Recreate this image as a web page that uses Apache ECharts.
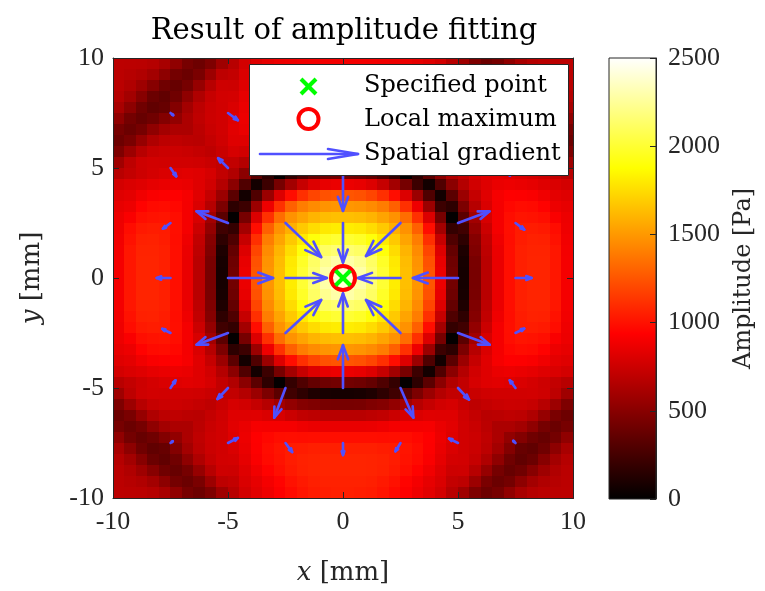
<!DOCTYPE html>
<html>
<head>
<meta charset="utf-8">
<script src="https://cdn.jsdelivr.net/npm/echarts@6/dist/echarts.min.js"></script>
<style>
  html, body { margin: 0; padding: 0; background: #fff; }
  #main { width: 765px; height: 591px; }
</style>
</head>
<body>
<div id="main"></div>
<script>
// cell centres of the amplitude map [mm]
var xCells = [-9.75, -9.25, -8.75, -8.25, -7.75, -7.25, -6.75, -6.25, -5.75, -5.25, -4.75, -4.25, -3.75, -3.25, -2.75, -2.25, -1.75, -1.25, -0.75, -0.25,
              0.25, 0.75, 1.25, 1.75, 2.25, 2.75, 3.25, 3.75, 4.25, 4.75, 5.25, 5.75, 6.25, 6.75, 7.25, 7.75, 8.25, 8.75, 9.25, 9.75];
var yCells = [9.75, 9.25, 8.75, 8.25, 7.75, 7.25, 6.75, 6.25, 5.75, 5.25, 4.75, 4.25, 3.75, 3.25, 2.75, 2.25, 1.75, 1.25, 0.75, 0.25,
              -0.25, -0.75, -1.25, -1.75, -2.25, -2.75, -3.25, -3.75, -4.25, -4.75, -5.25, -5.75, -6.25, -6.75, -7.25, -7.75, -8.25, -8.75, -9.25, -9.75];

// amplitude [Pa], one row per yCells entry (top to bottom), one column per xCells entry
var amplitude = [
[690,689,682,666,617,529,438,402,465,586,678,776,820,850,870,880,890,898,900,900, 900,900,898,890,880,870,850,820,776,678,586,465,402,438,529,617,666,682,689,690],
[689,668,647,599,518,428,393,450,575,696,718,800,840,870,920,980,1000,1018,1020,1020, 1020,1020,1018,1000,980,920,870,840,800,718,696,575,450,393,428,518,599,647,668,689],
[682,647,581,496,410,380,435,552,674,757,752,820,885,945,990,1030,1055,1068,1070,1070, 1070,1070,1068,1055,1030,990,945,885,820,752,757,674,552,435,380,410,496,581,647,682],
[666,599,496,392,358,410,526,643,728,771,778,845,920,975,1005,1040,1060,1068,1070,1070, 1070,1070,1068,1060,1040,1005,975,920,845,778,771,728,643,526,410,358,392,496,599,666],
[617,518,410,358,379,481,599,690,747,768,800,860,930,980,1010,1035,1040,1050,1050,1050, 1050,1050,1050,1040,1035,1010,980,930,860,800,768,747,690,599,481,379,358,410,518,617],
[529,428,380,410,481,537,632,702,749,770,820,870,935,965,985,990,985,990,990,990, 990,990,990,985,990,985,965,935,870,820,770,749,702,632,537,481,410,380,428,529],
[438,393,435,526,599,632,633,689,740,770,830,860,905,900,900,900,880,865,860,860, 860,860,865,880,900,900,900,905,860,830,770,740,689,633,632,599,526,435,393,438],
[402,450,552,643,690,702,689,680,720,760,820,820,825,800,790,745,710,695,680,680, 680,680,695,710,745,790,800,825,820,820,760,720,680,689,702,690,643,552,450,402],
[465,575,674,728,747,749,740,720,700,740,785,770,725,670,595,540,490,470,445,440, 440,445,470,490,540,595,670,725,770,785,740,700,720,740,749,747,728,674,575,465],
[586,696,757,771,768,770,770,760,740,715,715,660,570,455,335,235,170,110,90,80, 80,90,110,170,235,335,455,570,660,715,715,740,760,770,770,768,771,757,696,586],
[678,718,752,778,800,820,830,820,785,715,650,510,335,165,15,190,290,368,406,420, 420,406,368,290,190,15,165,335,510,650,715,785,820,830,820,800,778,752,718,678],
[776,800,820,845,860,870,860,820,770,660,510,295,70,220,435,600,727,811,854,869, 869,854,811,727,600,435,220,70,295,510,660,770,820,860,870,860,845,820,800,776],
[820,840,885,920,930,935,905,825,725,570,335,70,290,570,810,985,1112,1190,1234,1249, 1249,1234,1190,1112,985,810,570,290,70,335,570,725,825,905,935,930,920,885,840,820],
[850,870,945,975,980,965,900,800,670,455,165,220,570,875,1115,1290,1396,1449,1479,1489, 1489,1479,1449,1396,1290,1115,875,570,220,165,455,670,800,900,965,980,975,945,870,850],
[870,920,990,1005,1010,985,900,790,595,335,15,435,810,1115,1340,1474,1540,1598,1629,1639, 1639,1629,1598,1540,1474,1340,1115,810,435,15,335,595,790,900,985,1010,1005,990,920,870],
[880,980,1030,1040,1035,990,900,745,540,235,190,600,985,1290,1474,1580,1675,1747,1793,1809, 1809,1793,1747,1675,1580,1474,1290,985,600,190,235,540,745,900,990,1035,1040,1030,980,880],
[890,1000,1055,1060,1040,985,880,710,490,170,290,727,1112,1396,1540,1675,1797,1900,1971,1999, 1999,1971,1900,1797,1675,1540,1396,1112,727,290,170,490,710,880,985,1040,1060,1055,1000,890],
[898,1018,1068,1068,1050,990,865,695,470,110,368,811,1190,1449,1598,1747,1900,2038,2117,2148, 2148,2117,2038,1900,1747,1598,1449,1190,811,368,110,470,695,865,990,1050,1068,1068,1018,898],
[900,1020,1070,1070,1050,990,860,680,445,90,406,854,1234,1479,1629,1793,1971,2117,2226,2285, 2285,2226,2117,1971,1793,1629,1479,1234,854,406,90,445,680,860,990,1050,1070,1070,1020,900],
[900,1020,1070,1070,1050,990,860,680,440,80,420,869,1249,1489,1639,1809,1999,2148,2285,2405, 2405,2285,2148,1999,1809,1639,1489,1249,869,420,80,440,680,860,990,1050,1070,1070,1020,900],
[900,1020,1070,1070,1050,990,860,680,440,80,420,869,1249,1489,1639,1809,1999,2148,2285,2405, 2405,2285,2148,1999,1809,1639,1489,1249,869,420,80,440,680,860,990,1050,1070,1070,1020,900],
[900,1020,1070,1070,1050,990,860,680,445,90,406,854,1234,1479,1629,1793,1971,2117,2226,2285, 2285,2226,2117,1971,1793,1629,1479,1234,854,406,90,445,680,860,990,1050,1070,1070,1020,900],
[898,1018,1068,1068,1050,990,865,695,470,110,368,811,1190,1449,1598,1747,1900,2038,2117,2148, 2148,2117,2038,1900,1747,1598,1449,1190,811,368,110,470,695,865,990,1050,1068,1068,1018,898],
[890,1000,1055,1060,1040,985,880,710,490,170,290,727,1112,1396,1540,1675,1797,1900,1971,1999, 1999,1971,1900,1797,1675,1540,1396,1112,727,290,170,490,710,880,985,1040,1060,1055,1000,890],
[880,980,1030,1040,1035,990,900,745,540,235,190,600,985,1290,1474,1580,1675,1747,1793,1809, 1809,1793,1747,1675,1580,1474,1290,985,600,190,235,540,745,900,990,1035,1040,1030,980,880],
[870,920,990,1005,1010,985,900,790,595,335,15,435,810,1115,1340,1474,1540,1598,1629,1639, 1639,1629,1598,1540,1474,1340,1115,810,435,15,335,595,790,900,985,1010,1005,990,920,870],
[850,870,945,975,980,965,900,800,670,455,165,220,570,875,1115,1290,1396,1449,1479,1489, 1489,1479,1449,1396,1290,1115,875,570,220,165,455,670,800,900,965,980,975,945,870,850],
[820,840,885,920,930,935,905,825,725,570,335,70,290,570,810,985,1112,1190,1234,1249, 1249,1234,1190,1112,985,810,570,290,70,335,570,725,825,905,935,930,920,885,840,820],
[776,800,820,845,860,870,860,820,770,660,510,295,70,220,435,600,727,811,854,869, 869,854,811,727,600,435,220,70,295,510,660,770,820,860,870,860,845,820,800,776],
[678,718,752,778,800,820,830,820,785,715,650,510,335,165,15,190,290,368,406,420, 420,406,368,290,190,15,165,335,510,650,715,785,820,830,820,800,778,752,718,678],
[586,696,757,771,768,770,770,760,740,715,715,660,570,455,335,235,170,110,90,80, 80,90,110,170,235,335,455,570,660,715,715,740,760,770,770,768,771,757,696,586],
[465,575,674,728,747,749,740,720,700,740,785,770,725,670,595,540,490,470,445,440, 440,445,470,490,540,595,670,725,770,785,740,700,720,740,749,747,728,674,575,465],
[402,450,552,643,690,702,689,680,720,760,820,820,825,800,790,745,710,695,680,680, 680,680,695,710,745,790,800,825,820,820,760,720,680,689,702,690,643,552,450,402],
[438,393,435,526,599,632,633,689,740,770,830,860,905,900,900,900,880,865,860,860, 860,860,865,880,900,900,900,905,860,830,770,740,689,633,632,599,526,435,393,438],
[529,428,380,410,481,537,632,702,749,770,820,870,935,965,985,990,985,990,990,990, 990,990,990,985,990,985,965,935,870,820,770,749,702,632,537,481,410,380,428,529],
[617,518,410,358,379,481,599,690,747,768,800,860,930,980,1010,1035,1040,1050,1050,1050, 1050,1050,1050,1040,1035,1010,980,930,860,800,768,747,690,599,481,379,358,410,518,617],
[666,599,496,392,358,410,526,643,728,771,778,845,920,975,1005,1040,1060,1068,1070,1070, 1070,1070,1068,1060,1040,1005,975,920,845,778,771,728,643,526,410,358,392,496,599,666],
[682,647,581,496,410,380,435,552,674,757,752,820,885,945,990,1030,1055,1068,1070,1070, 1070,1070,1068,1055,1030,990,945,885,820,752,757,674,552,435,380,410,496,581,647,682],
[689,668,647,599,518,428,393,450,575,696,718,800,850,900,950,1000,1030,1050,1060,1060, 1060,1060,1050,1030,1000,950,900,850,800,718,696,575,450,393,428,518,599,647,668,689],
[690,689,682,666,617,529,438,402,465,586,678,776,830,880,930,975,1010,1035,1045,1050, 1050,1045,1035,1010,975,930,880,830,776,678,586,465,402,438,529,617,666,682,689,690]
];

// quiver grid [mm] and gradient vectors (arrow length in mm)
var arrowX = [-7.5, -5, -2.5, 0, 2.5, 5, 7.5];
var arrowY = [7.5, 5, 2.5, 0, -2.5, -5, -7.5];
var gradU = [
  [0.12, 0.43, 0.29, 0, -0.25, -0.39, -0.1],
  [0.25, -0.43, -0.49, 0, 0.5, 0.46, -0.25],
  [-0.33, -1.37, 1.55, 0, -1.5, 1.37, 0.38],
  [-0.6, 1.96, 1.8, 0, -1.85, -1.96, 0.7],
  [-0.36, -1.37, 1.55, 0, -1.5, 1.38, 0.38],
  [0.22, -0.46, -0.49, 0, 0.56, 0.48, -0.25],
  [0.1, 0.43, 0.29, 0, -0.22, -0.39, -0.1]
];
var gradV = [
  [-0.1, -0.33, 0.41, 0.5, 0.4, -0.2, -0.1],
  [-0.38, 0.45, 1.35, -1.95, 1.35, 0.5, -0.35],
  [-0.26, 0.53, -1.55, -1.8, -1.5, 0.53, -0.3],
  [0, 0, 0, 0, 0, 0, 0],
  [0.19, -0.53, 1.5, 1.8, 1.5, -0.53, 0.2],
  [0.35, -0.5, -1.35, 1.95, -1.35, -0.53, 0.35],
  [0.08, 0.23, -0.41, -0.55, -0.38, 0.2, 0.1]
];

var specifiedPoint = [0, 0];
var localMaximum = [0, 0];

var ampMin = 0, ampMax = 2500, ampStep = 500;

var hot = ['#000000', '#550000', '#aa0000', '#ff0000', '#ff5500', '#ffaa00', '#ffff00', '#ffff80', '#ffffff'];
var blue = '#5050ff';
var axisColor = '#262626';
var serif = '"Liberation Serif", "DejaVu Serif", serif';
var wideSerif = '"DejaVu Serif", "Liberation Serif", serif';

var cellData = [];
for (var r = 0; r < yCells.length; r++) {
    for (var c = 0; c < xCells.length; c++) {
        cellData.push([xCells[c], yCells[r], amplitude[r][c]]);
    }
}
var halfX = Math.abs(xCells[1] - xCells[0]) / 2;
var halfY = Math.abs(yCells[1] - yCells[0]) / 2;

var arrowData = [];
for (var i = 0; i < arrowY.length; i++) {
    for (var j = 0; j < arrowX.length; j++) {
        arrowData.push([arrowX[j], arrowY[i], gradU[i][j], gradV[i][j]]);
    }
}

function renderCell(params, api) {
    var x = api.value(0), y = api.value(1);
    var p0 = api.coord([x - halfX, y + halfY]);
    var p1 = api.coord([x + halfX, y - halfY]);
    var x0 = Math.floor(p0[0]), y0 = Math.floor(p0[1]);
    return {
        type: 'rect',
        shape: { x: x0, y: y0, width: Math.ceil(p1[0]) - x0 + 1, height: Math.ceil(p1[1]) - y0 + 1 },
        style: { fill: api.visual('color') }
    };
}

// quiver style arrow: shaft plus an open head at the tip
function arrowShape(p0, p1, headLen, headHalf, lw, z) {
    var dx = p1[0] - p0[0], dy = p1[1] - p0[1];
    var len = Math.sqrt(dx * dx + dy * dy);
    if (len < 0.5) return null;
    var ux = dx / len, uy = dy / len;
    var hl = headLen == null ? 0.33 * len : headLen;
    var hw = headHalf == null ? 0.12 * len : headHalf;
    var bx = p1[0] - ux * hl, by = p1[1] - uy * hl;
    return [
        { type: 'line', z: z || 0, shape: { x1: p0[0], y1: p0[1], x2: p1[0], y2: p1[1] },
          style: { stroke: blue, lineWidth: lw, lineCap: 'round' } },
        { type: 'polyline', z: z || 0, shape: { points: [[bx - uy * hw, by + ux * hw], [p1[0], p1[1]], [bx + uy * hw, by - ux * hw]] },
          style: { stroke: blue, fill: null, lineWidth: lw, lineJoin: 'round', lineCap: 'round' } }
    ];
}

function renderArrow(params, api) {
    var x = api.value(0), y = api.value(1), u = api.value(2), v = api.value(3);
    var kids = arrowShape(api.coord([x, y]), api.coord([x + u, y + v]), null, null, 2.6);
    if (!kids) return null;
    return { type: 'group', children: kids };
}

function renderCircle(params, api) {
    var p = api.coord([api.value(0), api.value(1)]);
    return { type: 'circle', shape: { cx: p[0], cy: p[1], r: 12 },
             style: { fill: null, stroke: '#ff0000', lineWidth: 4 } };
}

function renderCross(params, api) {
    var p = api.coord([api.value(0), api.value(1)]);
    var s = 7.5;
    return { type: 'group', children: [
        { type: 'line', shape: { x1: p[0] - s, y1: p[1] - s, x2: p[0] + s, y2: p[1] + s }, style: { stroke: '#00ff00', lineWidth: 4 } },
        { type: 'line', shape: { x1: p[0] - s, y1: p[1] + s, x2: p[0] + s, y2: p[1] - s }, style: { stroke: '#00ff00', lineWidth: 4 } }
    ] };
}

function renderColorbar(params, api) {
    var p0 = api.coord([0, api.value(1)]);
    var p1 = api.coord([1, api.value(0)]);
    var stops = hot.map(function (c, k) { return { offset: k / (hot.length - 1), color: c }; });
    return {
        type: 'rect',
        shape: { x: p0[0], y: p0[1], width: p1[0] - p0[0], height: p1[1] - p0[1] },
        style: { fill: new echarts.graphic.LinearGradient(0, 1, 0, 0, stops), stroke: axisColor, lineWidth: 1 }
    };
}

var frameAxis = {
    axisLine: { onZero: false, lineStyle: { color: axisColor, width: 1 } },
    axisTick: { inside: true, length: 6, lineStyle: { color: axisColor, width: 1 } },
    splitLine: { show: false },
    z: 10
};
function merge(a, b) { return Object.assign({}, a, b); }

var labelStyle = { color: axisColor, fontFamily: serif, fontSize: 26 };
var nameStyle = { color: axisColor, fontFamily: wideSerif, fontSize: 26,
    rich: { i: { fontStyle: 'italic', fontFamily: wideSerif, fontSize: 26, color: axisColor } } };

var myChart = echarts.init(document.getElementById('main'), null, { renderer: 'canvas' });
var option = {
    animation: false,
    backgroundColor: '#ffffff',
    grid: [
        { left: 113, top: 58, width: 460, height: 440 },
        { left: 609, top: 58, width: 47, height: 441 }
    ],
    visualMap: {
        show: false,
        type: 'continuous',
        seriesIndex: 0,
        dimension: 2,
        min: ampMin,
        max: ampMax,
        inRange: { color: hot }
    },
    xAxis: [
        merge(frameAxis, {
            gridIndex: 0, type: 'value', min: -10, max: 10, interval: 5, position: 'bottom',
            axisLabel: merge(labelStyle, { margin: 11 }),
            name: '{i|x} [mm]', nameLocation: 'middle', nameGap: 62, nameTextStyle: nameStyle
        }),
        merge(frameAxis, {
            gridIndex: 0, type: 'value', min: -10, max: 10, interval: 5, position: 'top',
            axisLabel: { show: false }
        }),
        { gridIndex: 1, type: 'value', min: 0, max: 1, show: false }
    ],
    yAxis: [
        merge(frameAxis, {
            gridIndex: 0, type: 'value', min: -10, max: 10, interval: 5, position: 'left',
            axisLabel: merge(labelStyle, { margin: 9 }),
            name: '{i|y} [mm]', nameLocation: 'middle', nameGap: 68, nameRotate: 90, nameTextStyle: nameStyle
        }),
        merge(frameAxis, {
            gridIndex: 0, type: 'value', min: -10, max: 10, interval: 5, position: 'right',
            axisLabel: { show: false }
        }),
        merge(frameAxis, {
            gridIndex: 1, type: 'value', min: ampMin, max: ampMax, interval: ampStep, position: 'right',
            axisLabel: merge(labelStyle, { margin: 12, formatter: function (v) { return String(v); } }),
            name: 'Amplitude [Pa]', nameLocation: 'middle', nameGap: 76, nameRotate: 90,
            nameTextStyle: { color: axisColor, fontFamily: wideSerif, fontSize: 24 }
        })
    ],
    graphic: [
        { type: 'text', z: 100, x: 344, y: 31,
          style: { text: 'Result of amplitude fitting', align: 'center', verticalAlign: 'middle',
                   fontFamily: wideSerif, fontSize: 29, fill: '#000' } },
        { type: 'rect', z: 100, shape: { x: 249.5, y: 64.5, width: 319, height: 111 },
          style: { fill: '#ffffff', stroke: axisColor, lineWidth: 1 } },
        { type: 'group', z: 101, children: [
            { type: 'line', z: 101, shape: { x1: 301, y1: 79, x2: 316, y2: 94 }, style: { stroke: '#00ff00', lineWidth: 4 } },
            { type: 'line', z: 101, shape: { x1: 301, y1: 94, x2: 316, y2: 79 }, style: { stroke: '#00ff00', lineWidth: 4 } },
            { type: 'circle', z: 101, shape: { cx: 308.5, cy: 119, r: 10 }, style: { fill: null, stroke: '#ff0000', lineWidth: 4 } }
        ] },
        { type: 'group', z: 101, children: arrowShape([260, 154], [358, 154], 30, 5, 2.6, 101) },
        { type: 'text', z: 101, x: 364, y: 86, style: { text: 'Specified point', verticalAlign: 'middle', fontFamily: wideSerif, fontSize: 24, fill: '#000' } },
        { type: 'text', z: 101, x: 364, y: 120, style: { text: 'Local maximum', verticalAlign: 'middle', fontFamily: wideSerif, fontSize: 24, fill: '#000' } },
        { type: 'text', z: 101, x: 364, y: 154, style: { text: 'Spatial gradient', verticalAlign: 'middle', fontFamily: wideSerif, fontSize: 24, fill: '#000' } }
    ],
    series: [
        {
            name: 'Amplitude', type: 'custom', xAxisIndex: 0, yAxisIndex: 0, z: 1,
            renderItem: renderCell, data: cellData, silent: true
        },
        {
            name: 'Spatial gradient', type: 'custom', xAxisIndex: 0, yAxisIndex: 0, z: 3,
            renderItem: renderArrow, data: arrowData, silent: true
        },
        {
            name: 'Local maximum', type: 'custom', xAxisIndex: 0, yAxisIndex: 0, z: 4,
            renderItem: renderCircle, data: [localMaximum], silent: true
        },
        {
            name: 'Specified point', type: 'custom', xAxisIndex: 0, yAxisIndex: 0, z: 5,
            renderItem: renderCross, data: [specifiedPoint], silent: true
        },
        {
            name: 'Colorbar', type: 'custom', xAxisIndex: 2, yAxisIndex: 2, z: 1,
            renderItem: renderColorbar, data: [[ampMin, ampMax]], silent: true
        }
    ]
};

myChart.setOption(option);
</script>
</body>
</html>
